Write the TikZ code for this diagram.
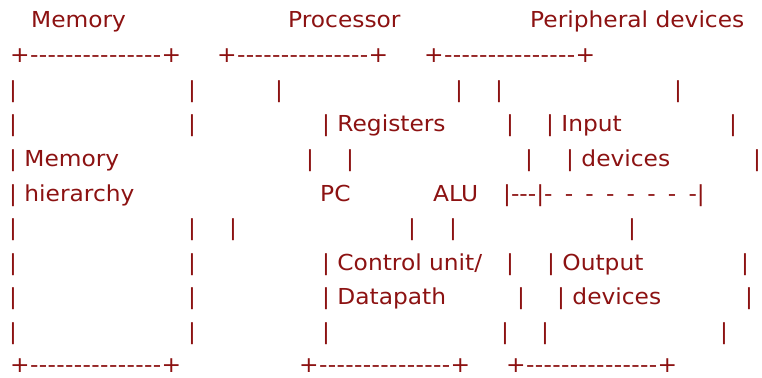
\documentclass[tikz,border=0pt]{standalone}
\usepackage{fontspec}
\newfontfamily\asciifont[FakeStretch=1.06,Ligatures=TeXOff]{DejaVu Sans}
\definecolor{asciired}{RGB}{140,18,18}
\newcommand\dgap{\hspace{12.2pt}-}
\tikzset{
  txt/.style={anchor=base west, inner sep=0pt, text=asciired,
    font=\asciifont\fontsize{22}{26}\selectfont},
  bar/.style={txt, anchor=base},
  rim/.style={txt, font=\asciifont\fontsize{22}{26}\selectfont\addfontfeature{LetterSpace=1.6}}
}

\begin{document}
\begin{tikzpicture}[x=1pt, y=-1pt]
\useasboundingbox (0,0) rectangle (762,377);
% titles
\node[txt] (memtitle) at (31,28) {Memory};
\node[txt] (proctitle) at (288,28) {Processor};
\node[txt] (perititle) at (530,28) {Peripheral devices};
% top edges
\node[rim] (memtop) at (10,62.6) {+---------------+};
\node[rim] (proctop) at (217,62.6) {+---------------+};
\node[rim] (peritop) at (424,62.6) {+---------------+};
% row 3
\foreach \x [count=\i] in {13,192,279,459,499,678}
  \node[bar] (rowc\i) at (\x,97.2) {|};
% row 4
\foreach \x [count=\i] in {13,192,510,733}
  \node[bar] (rowd\i) at (\x,131.8) {|};
\node[txt] (regs) at (322,131.8) {| Registers};
\node[txt] (input) at (546,131.8) {| Input};
% row 5
\foreach \x [count=\i] in {310,350,529,757}
  \node[bar] (rowe\i) at (\x,166.4) {|};
\node[txt] (memory) at (9,166.4) {| Memory};
\node[txt] (indev) at (566,166.4) {| devices};
% row 6
\node[txt] (hier) at (9,201) {| hierarchy};
\node[txt] (pc) at (320,201) {PC};
\node[txt] (alu) at (433,201) {ALU};
\node[txt] (bus) at (503,201) {|---|-\dgap\dgap\dgap\dgap\dgap\dgap\dgap|};
% row 7
\foreach \x [count=\i] in {13,192,233,412,453,632}
  \node[bar] (rowg\i) at (\x,235.6) {|};
% row 8
\foreach \x [count=\i] in {13,192,510,745}
  \node[bar] (rowh\i) at (\x,270.2) {|};
\node[txt] (ctrl) at (322,270.2) {| Control unit/};
\node[txt] (output) at (547,270.2) {| Output};
% row 9
\foreach \x [count=\i] in {13,192,521,749}
  \node[bar] (rowi\i) at (\x,304.8) {|};
\node[txt] (dpath) at (322,304.8) {| Datapath};
\node[txt] (outdev) at (557,304.8) {| devices};
% row 10
\foreach \x [count=\i] in {13,192,326,505,545,724}
  \node[bar] (rowj\i) at (\x,339.4) {|};
% bottom edges
\node[rim] (membot) at (10,372) {+---------------+};
\node[rim] (procbot) at (299,372) {+---------------+};
\node[rim] (peribot) at (506,372) {+---------------+};
\end{tikzpicture}
\end{document}
